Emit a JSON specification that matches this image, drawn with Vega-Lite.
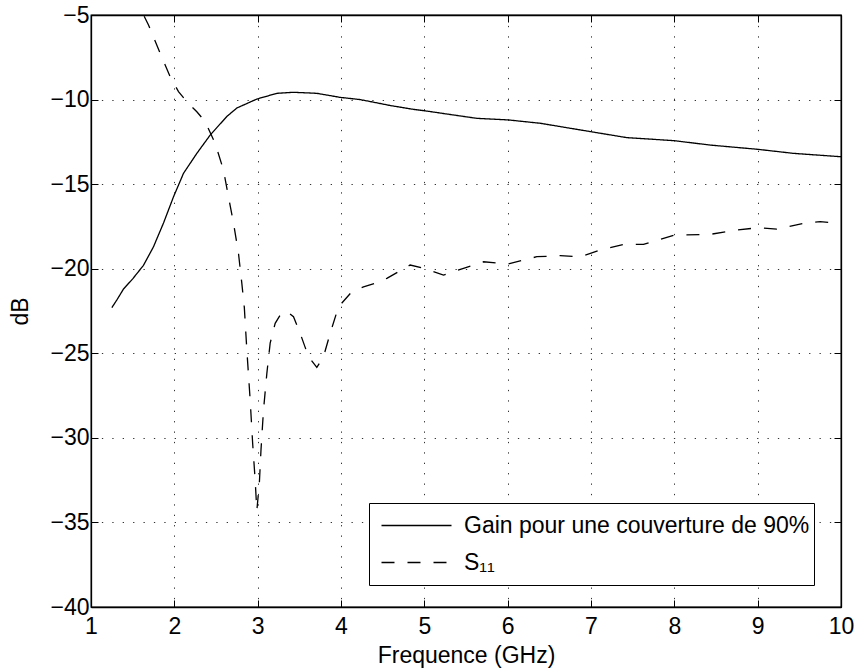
{
  "$schema": "https://vega.github.io/schema/vega-lite/v6.json",
  "width": 750,
  "height": 592,
  "autosize": {"type": "none"},
  "padding": {"left": 91, "top": 15, "right": 16, "bottom": 64},
  "background": "white",
  "config": {
    "font": "Liberation Sans",
    "view": {"stroke": "black", "strokeWidth": 1.3},
    "axis": {
      "domainColor": "black",
      "domainWidth": 1.3,
      "tickColor": "black",
      "tickWidth": 1,
      "labelColor": "black",
      "titleColor": "black",
      "labelFont": "Liberation Sans",
      "titleFont": "Liberation Sans",
      "labelFontSize": 23,
      "titleFontSize": 23,
      "titleFontWeight": "normal",
      "gridColor": "black",
      "gridOpacity": 0.8,
      "gridWidth": 1,
      "gridDash": [1.3, 9.1]
    }
  },
  "data": {
    "values": [
      {"f": 1.25, "db": -22.3, "series": "Gain pour une couverture de 90%"},
      {"f": 1.31, "db": -21.85, "series": "Gain pour une couverture de 90%"},
      {"f": 1.39, "db": -21.2, "series": "Gain pour une couverture de 90%"},
      {"f": 1.5, "db": -20.6, "series": "Gain pour une couverture de 90%"},
      {"f": 1.63, "db": -19.8, "series": "Gain pour une couverture de 90%"},
      {"f": 1.75, "db": -18.7, "series": "Gain pour une couverture de 90%"},
      {"f": 1.87, "db": -17.3, "series": "Gain pour une couverture de 90%"},
      {"f": 1.99, "db": -15.75, "series": "Gain pour une couverture de 90%"},
      {"f": 2.11, "db": -14.36, "series": "Gain pour une couverture de 90%"},
      {"f": 2.27, "db": -13.18, "series": "Gain pour une couverture de 90%"},
      {"f": 2.43, "db": -12.1, "series": "Gain pour une couverture de 90%"},
      {"f": 2.63, "db": -11.0, "series": "Gain pour une couverture de 90%"},
      {"f": 2.75, "db": -10.5, "series": "Gain pour une couverture de 90%"},
      {"f": 2.99, "db": -9.97, "series": "Gain pour une couverture de 90%"},
      {"f": 3.23, "db": -9.63, "series": "Gain pour une couverture de 90%"},
      {"f": 3.43, "db": -9.57, "series": "Gain pour une couverture de 90%"},
      {"f": 3.71, "db": -9.63, "series": "Gain pour une couverture de 90%"},
      {"f": 3.99, "db": -9.87, "series": "Gain pour une couverture de 90%"},
      {"f": 4.23, "db": -10.0, "series": "Gain pour une couverture de 90%"},
      {"f": 4.59, "db": -10.35, "series": "Gain pour une couverture de 90%"},
      {"f": 4.87, "db": -10.58, "series": "Gain pour une couverture de 90%"},
      {"f": 5.0, "db": -10.66, "series": "Gain pour une couverture de 90%"},
      {"f": 5.63, "db": -11.11, "series": "Gain pour une couverture de 90%"},
      {"f": 6.0, "db": -11.2, "series": "Gain pour une couverture de 90%"},
      {"f": 6.39, "db": -11.4, "series": "Gain pour une couverture de 90%"},
      {"f": 7.0, "db": -11.9, "series": "Gain pour une couverture de 90%"},
      {"f": 7.43, "db": -12.25, "series": "Gain pour une couverture de 90%"},
      {"f": 8.0, "db": -12.43, "series": "Gain pour une couverture de 90%"},
      {"f": 8.43, "db": -12.69, "series": "Gain pour une couverture de 90%"},
      {"f": 9.0, "db": -12.94, "series": "Gain pour une couverture de 90%"},
      {"f": 9.43, "db": -13.18, "series": "Gain pour une couverture de 90%"},
      {"f": 10.0, "db": -13.38, "series": "Gain pour une couverture de 90%"},
      {"f": 1.5, "db": -3.7, "series": "S₁₁"},
      {"f": 1.63, "db": -5.0, "series": "S₁₁"},
      {"f": 1.69, "db": -5.59, "series": "S₁₁"},
      {"f": 1.83, "db": -7.27, "series": "S₁₁"},
      {"f": 1.95, "db": -8.65, "series": "S₁₁"},
      {"f": 2.05, "db": -9.53, "series": "S₁₁"},
      {"f": 2.15, "db": -10.13, "series": "S₁₁"},
      {"f": 2.27, "db": -10.72, "series": "S₁₁"},
      {"f": 2.37, "db": -11.3, "series": "S₁₁"},
      {"f": 2.49, "db": -12.59, "series": "S₁₁"},
      {"f": 2.59, "db": -14.17, "series": "S₁₁"},
      {"f": 2.65, "db": -15.75, "series": "S₁₁"},
      {"f": 2.71, "db": -17.3, "series": "S₁₁"},
      {"f": 2.77, "db": -19.1, "series": "S₁₁"},
      {"f": 2.81, "db": -20.87, "series": "S₁₁"},
      {"f": 2.84, "db": -22.3, "series": "S₁₁"},
      {"f": 2.87, "db": -24.8, "series": "S₁₁"},
      {"f": 2.91, "db": -27.77, "series": "S₁₁"},
      {"f": 2.94, "db": -30.33, "series": "S₁₁"},
      {"f": 2.97, "db": -32.5, "series": "S₁₁"},
      {"f": 2.99, "db": -34.3, "series": "S₁₁"},
      {"f": 3.02, "db": -32.7, "series": "S₁₁"},
      {"f": 3.04, "db": -30.7, "series": "S₁₁"},
      {"f": 3.07, "db": -28.36, "series": "S₁₁"},
      {"f": 3.11, "db": -26.2, "series": "S₁₁"},
      {"f": 3.15, "db": -24.4, "series": "S₁₁"},
      {"f": 3.21, "db": -23.23, "series": "S₁₁"},
      {"f": 3.27, "db": -22.74, "series": "S₁₁"},
      {"f": 3.34, "db": -22.49, "series": "S₁₁"},
      {"f": 3.43, "db": -22.84, "series": "S₁₁"},
      {"f": 3.51, "db": -23.82, "series": "S₁₁"},
      {"f": 3.61, "db": -25.2, "series": "S₁₁"},
      {"f": 3.71, "db": -25.83, "series": "S₁₁"},
      {"f": 3.79, "db": -25.2, "series": "S₁₁"},
      {"f": 3.87, "db": -23.82, "series": "S₁₁"},
      {"f": 3.97, "db": -22.25, "series": "S₁₁"},
      {"f": 4.13, "db": -21.36, "series": "S₁₁"},
      {"f": 4.27, "db": -21.07, "series": "S₁₁"},
      {"f": 4.47, "db": -20.77, "series": "S₁₁"},
      {"f": 4.55, "db": -20.57, "series": "S₁₁"},
      {"f": 4.83, "db": -19.78, "series": "S₁₁"},
      {"f": 5.0, "db": -19.98, "series": "S₁₁"},
      {"f": 5.23, "db": -20.38, "series": "S₁₁"},
      {"f": 5.47, "db": -19.98, "series": "S₁₁"},
      {"f": 5.71, "db": -19.59, "series": "S₁₁"},
      {"f": 6.0, "db": -19.73, "series": "S₁₁"},
      {"f": 6.35, "db": -19.29, "series": "S₁₁"},
      {"f": 6.63, "db": -19.23, "series": "S₁₁"},
      {"f": 6.87, "db": -19.29, "series": "S₁₁"},
      {"f": 7.11, "db": -18.9, "series": "S₁₁"},
      {"f": 7.39, "db": -18.56, "series": "S₁₁"},
      {"f": 7.63, "db": -18.56, "series": "S₁₁"},
      {"f": 8.0, "db": -18.01, "series": "S₁₁"},
      {"f": 8.43, "db": -17.97, "series": "S₁₁"},
      {"f": 8.75, "db": -17.71, "series": "S₁₁"},
      {"f": 9.0, "db": -17.58, "series": "S₁₁"},
      {"f": 9.23, "db": -17.66, "series": "S₁₁"},
      {"f": 9.55, "db": -17.32, "series": "S₁₁"},
      {"f": 9.75, "db": -17.22, "series": "S₁₁"},
      {"f": 10.0, "db": -17.32, "series": "S₁₁"}
    ]
  },
  "layer": [
    {
      "mark": {"type": "line", "clip": true, "color": "black", "strokeWidth": 1.3},
      "encoding": {
        "x": {
          "field": "f", "type": "quantitative",
          "scale": {"domain": [1, 10], "nice": false, "zero": false},
          "axis": {"orient": "bottom", "values": [1,2,3,4,5,6,7,8,9,10], "title": "Frequence (GHz)", "grid": true, "tickSize": -7, "labelPadding": 15, "titlePadding": 6, "labelFlush": false}
        },
        "y": {
          "field": "db", "type": "quantitative",
          "scale": {"domain": [-40, -5], "nice": false, "zero": false},
          "axis": {"orient": "left", "values": [-40,-35,-30,-25,-20,-15,-10,-5], "title": "dB", "grid": true, "tickSize": -7, "labelPadding": 9, "titlePadding": 17, "labelFlush": false}
        },
        "strokeDash": {
          "field": "series", "type": "nominal",
          "scale": {"domain": ["Gain pour une couverture de 90%", "S₁₁"], "range": [[1, 0], [13, 13]]},
          "legend": {
            "orient": "none", "legendX": 278, "legendY": 488,
            "title": null,
            "strokeColor": "black", "fillColor": "white",
            "padding": 4,
            "symbolType": "M-7,0H7", "symbolSize": 100,
            "symbolOffset": 32,
            "symbolFillColor": "transparent",
            "symbolStrokeColor": "black", "symbolStrokeWidth": 1.3,
            "labelFont": "Liberation Sans", "labelFontSize": 23, "labelColor": "black",
            "labelOffset": 36, "labelLimit": 500,
            "clipHeight": 37,
            "rowPadding": 0
          }
        }
      }
    },
    {
      "mark": {"type": "line", "clip": true, "strokeOpacity": 0},
      "encoding": {
        "x": {
          "field": "f", "type": "quantitative",
          "axis": {"orient": "top", "values": [1,2,3,4,5,6,7,8,9,10], "title": null, "labels": false, "grid": false, "tickSize": -7}
        },
        "y": {
          "field": "db", "type": "quantitative",
          "axis": {"orient": "right", "values": [-40,-35,-30,-25,-20,-15,-10,-5], "title": null, "labels": false, "grid": false, "tickSize": -7}
        },
        "detail": {"field": "series", "type": "nominal"}
      }
    }
  ],
  "resolve": {"axis": {"x": "independent", "y": "independent"}}
}
